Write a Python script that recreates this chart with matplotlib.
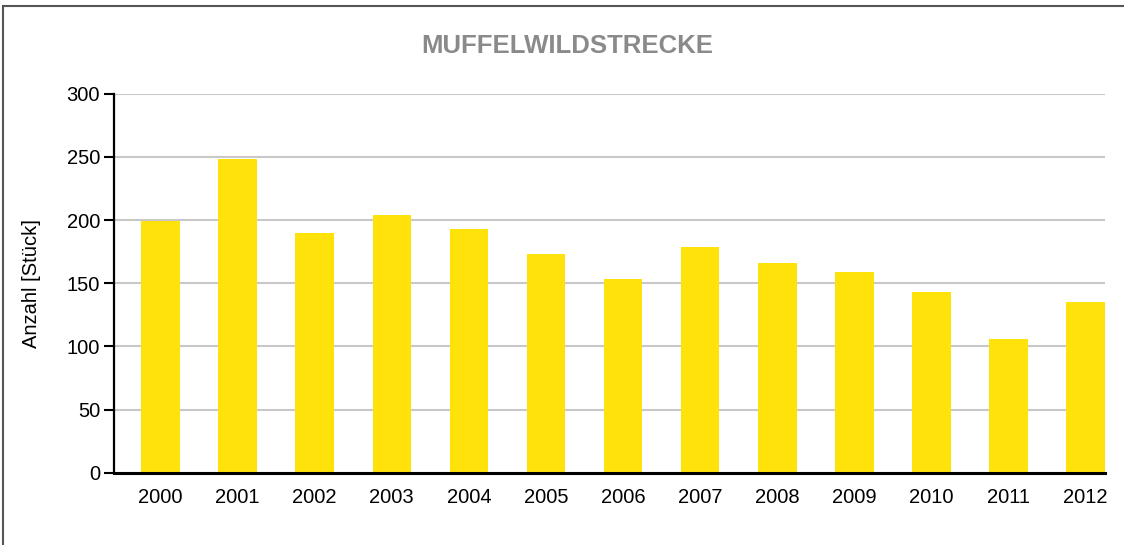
import matplotlib
matplotlib.use("Agg")
from matplotlib import pyplot as plt
from matplotlib.patches import Rectangle
import numpy as np

plt.rcParams['font.family'] = ['Liberation Sans', 'DejaVu Sans']

# data
years = ['2000', '2001', '2002', '2003', '2004', '2005', '2006',
         '2007', '2008', '2009', '2010', '2011', '2012']
strecke = [199, 248, 190, 204, 193, 173, 153, 179, 166, 159, 143, 106, 135]
y_ticks = [0, 50, 100, 150, 200, 250, 300]

bar_color = '#FFE20A'
grid_color = '#C8C8C8'

fig = plt.figure(figsize=(11.24, 5.45), dpi=100)
ax = fig.add_axes([0.1014, 0.1327, 0.8817, 0.6954])

x = np.arange(len(years))
ax.bar(x, strecke, width=0.5, color=bar_color, zorder=2)

ax.set_xlim(-0.603, 12.25)
ax.set_ylim(0, 300)
ax.set_yticks(y_ticks)
ax.set_xticks(x)
ax.set_xticklabels(years)

ax.yaxis.grid(True, color=grid_color, linewidth=1.5, zorder=0)
ax.set_axisbelow(True)

for s in ['top', 'right']:
    ax.spines[s].set_visible(False)
ax.spines['left'].set_linewidth(1.6)
ax.spines['bottom'].set_linewidth(2.2)

ax.tick_params(axis='y', length=7, width=1.5, pad=3, labelsize=14.5)
ax.tick_params(axis='x', length=0, pad=11, labelsize=14.5)

ax.set_ylabel('Anzahl [Stück]', fontsize=14.5)
ax.yaxis.set_label_coords(-0.0737, 0.5)

fig.text(0.5045, 0.916, 'MUFFELWILDSTRECKE', ha='center', va='center',
         fontsize=18.5, fontweight='bold', color='#8A8A8A')

# frame round the figure (top and left visible)
fig.patches.append(Rectangle((3 / 1124, -0.1), 1.2, 1.1 - 6 / 545,
                             transform=fig.transFigure, fill=False,
                             edgecolor='#555555', linewidth=1.5))

fig.savefig('out.png', dpi=100)
